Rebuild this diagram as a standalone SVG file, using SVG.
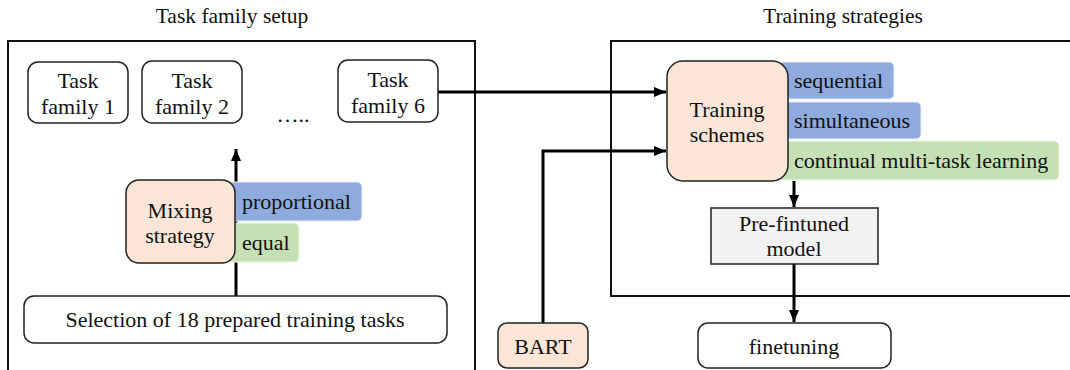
<svg xmlns="http://www.w3.org/2000/svg" width="1070" height="370" viewBox="0 0 1070 370">
<style>
.frame{fill:none;stroke:#111;stroke-width:2;}
.box{fill:#fff;stroke:#222;stroke-width:1.5;}
.peach{fill:#fbe5d6;stroke:#222;stroke-width:1.5;}
.blue{fill:#8faadc;stroke:#e8eef8;stroke-width:1;}
.green{fill:#c5e0b4;stroke:#eef6ea;stroke-width:1;}
.grey{fill:#f2f2f2;stroke:#222;stroke-width:1.5;}
.conn{fill:none;stroke:#000;stroke-width:3;}
</style>
<defs>
<marker id="ah" markerUnits="userSpaceOnUse" markerWidth="12" markerHeight="12" viewBox="0 0 12 12" refX="12" refY="6" orient="auto">
<path d="M0,1 L12,6 L0,11 Z" fill="#000"/>
</marker>
</defs>
<rect width="1070" height="370" fill="#fff"/>
<g id="frames">
<text style="font-family:'Liberation Serif',serif;font-size:21.5px" fill="#111" text-anchor="middle" x="232" y="23">Task family setup</text>
<rect class="frame" x="8" y="41" width="467" height="340"/>
<text style="font-family:'Liberation Serif',serif;font-size:21.5px" fill="#111" text-anchor="middle" x="843" y="23">Training strategies</text>
<rect class="frame" x="611" y="41" width="470" height="255"/>
</g>
<g id="connectors">
<path class="conn" d="M236,296 L236,149" marker-end="url(#ah)"/>
<path class="conn" d="M438,92 L666,92" marker-end="url(#ah)"/>
<path class="conn" d="M543,323 L543,151 L666,151" marker-end="url(#ah)"/>
<path class="conn" d="M794,181 L794,207" marker-end="url(#ah)"/>
<path class="conn" d="M794,264 L794,322" marker-end="url(#ah)"/>
</g>
<g id="tf1">
<rect class="box" x="28" y="62" width="100" height="61" rx="10"/>
<text style="font-family:'Liberation Serif',serif;font-size:22px" fill="#111" text-anchor="middle" x="78" y="88">Task</text>
<text style="font-family:'Liberation Serif',serif;font-size:22px" fill="#111" text-anchor="middle" x="78" y="114">family 1</text>
</g>
<g id="tf2">
<rect class="box" x="142" y="61" width="100" height="62" rx="10"/>
<text style="font-family:'Liberation Serif',serif;font-size:22px" fill="#111" text-anchor="middle" x="192" y="88">Task</text>
<text style="font-family:'Liberation Serif',serif;font-size:22px" fill="#111" text-anchor="middle" x="192" y="114">family 2</text>
</g>
<g id="dots">
<text style="font-family:'Liberation Serif',serif;font-size:22px" fill="#111" text-anchor="middle" x="293" y="122">…..</text>
</g>
<g id="tf6">
<rect class="box" x="338" y="60" width="100" height="62" rx="10"/>
<text style="font-family:'Liberation Serif',serif;font-size:22px" fill="#111" text-anchor="middle" x="388" y="87">Task</text>
<text style="font-family:'Liberation Serif',serif;font-size:22px" fill="#111" text-anchor="middle" x="388" y="113">family 6</text>
</g>
<g id="mixing">
<rect class="blue" x="226" y="182" width="136" height="39" rx="5"/>
<rect class="green" x="226" y="223" width="73" height="39" rx="5"/>
<rect class="peach" x="126" y="180" width="109" height="83" rx="13"/>
<text style="font-family:'Liberation Serif',serif;font-size:22px" fill="#111" text-anchor="middle" x="180" y="218">Mixing</text>
<text style="font-family:'Liberation Serif',serif;font-size:22px" fill="#111" text-anchor="middle" x="180" y="243">strategy</text>
<text style="font-family:'Liberation Serif',serif;font-size:22px" fill="#111" x="242" y="209">proportional</text>
<text style="font-family:'Liberation Serif',serif;font-size:22px" fill="#111" x="242" y="250">equal</text>
</g>
<g id="selection">
<rect class="box" x="24" y="296" width="423" height="47" rx="10"/>
<text style="font-family:'Liberation Serif',serif;font-size:22px" fill="#111" text-anchor="middle" x="235" y="327">Selection of 18 prepared training tasks</text>
</g>
<g id="schemes">
<rect class="blue" x="778" y="62" width="116" height="37" rx="5"/>
<rect class="blue" x="778" y="102" width="143" height="37" rx="5"/>
<rect class="green" x="778" y="141" width="281" height="39" rx="5"/>
<rect class="peach" x="667" y="61" width="121" height="120" rx="16"/>
<text style="font-family:'Liberation Serif',serif;font-size:22px" fill="#111" text-anchor="middle" x="727" y="117">Training</text>
<text style="font-family:'Liberation Serif',serif;font-size:22px" fill="#111" text-anchor="middle" x="727" y="142">schemes</text>
<text style="font-family:'Liberation Serif',serif;font-size:22px" fill="#111" x="794" y="88">sequential</text>
<text style="font-family:'Liberation Serif',serif;font-size:22px" fill="#111" x="794" y="128">simultaneous</text>
<text style="font-family:'Liberation Serif',serif;font-size:22px" fill="#111" x="794" y="168">continual multi-task learning</text>
</g>
<g id="prefinetuned">
<rect class="grey" x="711" y="208" width="167" height="56"/>
<text style="font-family:'Liberation Serif',serif;font-size:22px" fill="#111" text-anchor="middle" x="794" y="231">Pre-fintuned</text>
<text style="font-family:'Liberation Serif',serif;font-size:22px" fill="#111" text-anchor="middle" x="794" y="256">model</text>
</g>
<g id="bart">
<rect class="peach" x="498" y="323" width="90" height="45" rx="9"/>
<text style="font-family:'Liberation Serif',serif;font-size:22px" fill="#111" text-anchor="middle" x="543" y="354">BART</text>
</g>
<g id="finetuning">
<rect class="box" x="698" y="323" width="193" height="45" rx="10"/>
<text style="font-family:'Liberation Serif',serif;font-size:22px" fill="#111" text-anchor="middle" x="794" y="354">finetuning</text>
</g>
</svg>
